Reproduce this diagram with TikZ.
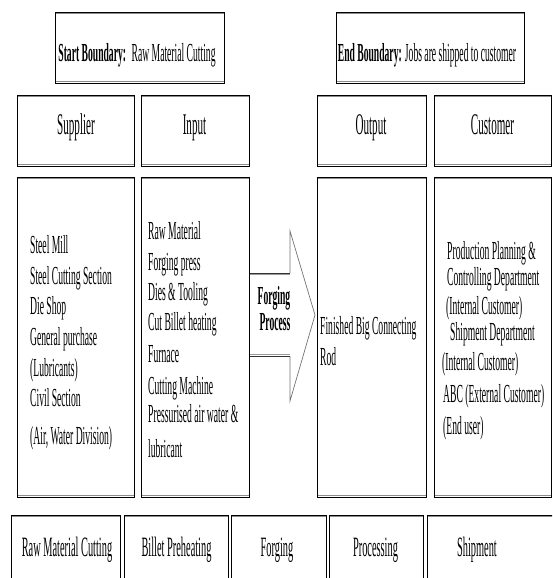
\documentclass[tikz,border=0pt]{standalone}
\usepackage{fontspec}
\setmainfont{Liberation Serif}[FakeStretch=0.37]
\begin{document}
\begin{tikzpicture}[x=1pt,y=-1pt,
  sbox/.style={draw=black, line width=0.8pt, fill=white, inner sep=0pt, outer sep=0pt,
    path picture={
      \draw[black!45, line width=1.3pt]
        ([yshift=-1.5pt]path picture bounding box.north west) -- ([yshift=-1.5pt]path picture bounding box.north east);
      \draw[black!45, line width=1.3pt]
        ([yshift=1.5pt]path picture bounding box.south west) -- ([yshift=1.5pt]path picture bounding box.south east);
    }},
  listtext/.style={font=\fontsize{26pt}{31pt}\selectfont, inner sep=0pt, anchor=base west},
  headtext/.style={font=\fontsize{26pt}{31pt}\selectfont, inner sep=0pt, anchor=base},
  labeltext/.style={font=\fontsize{30pt}{36pt}\selectfont, inner sep=0pt, anchor=base},
  steptext/.style={font=\fontsize{28pt}{34pt}\selectfont, inner sep=0pt, anchor=base},
  arrowtext/.style={font=\bfseries\fontsize{26pt}{31pt}\selectfont, inner sep=0pt, anchor=base}
]
\useasboundingbox (0,0) rectangle (552,578);
\clip (0,0) rectangle (552,578);

% boundary boxes
\node[sbox, minimum width=169pt, minimum height=71pt] (startb) at (139.5,47.5) {};
\node[sbox, minimum width=188pt, minimum height=71pt] (endb) at (430,47.5) {};
\node[headtext] (startt) at (137,62) {\textbf{Start Boundary:} \ Raw Material Cutting};
\node[headtext] (endt) at (427,62) {\textbf{End Boundary:} Jobs are shipped to customer};

% column heading boxes
\node[sbox, minimum width=117pt, minimum height=71pt] (supl) at (75.5,130.5) {};
\node[sbox, minimum width=108pt, minimum height=71pt] (inpl) at (195,130.5) {};
\node[sbox, minimum width=109pt, minimum height=71pt] (outl) at (371.5,130.5) {};
\node[sbox, minimum width=117pt, minimum height=71pt] (cusl) at (492.5,130.5) {};
\node[labeltext] (suplt) at (76,134) {Supplier};
\node[labeltext] (inplt) at (194.5,134) {Input};
\node[labeltext] (outlt) at (371,134) {Output};
\node[labeltext] (cuslt) at (492.5,134) {Customer};

% column content boxes
\node[sbox, minimum width=117pt, minimum height=320pt] (supb) at (75.5,337) {};
\node[sbox, minimum width=108pt, minimum height=320pt] (inpb) at (195,337) {};
\node[sbox, minimum width=109pt, minimum height=320pt] (outb) at (371.5,337) {};
\node[sbox, minimum width=117pt, minimum height=320pt] (cusb) at (492.5,337) {};

% supplier list
\foreach \n/\y/\t in {1/253/Steel Mill, 2/284/Steel Cutting Section, 3/314/Die Shop,
    4/345/General purchase, 5/376/(Lubricants), 6/406/Civil Section,
    7/444/{(Air, Water Division)}}
  \node[listtext] (sup\n) at (30,\y) {\t};

% input list
\foreach \n/\y/\t in {1/239/Raw Material, 2/270/Forging press, 3/300/Dies \& Tooling,
    4/330/Cut Billet heating, 5/362/Furnace, 6/394/Cutting Machine,
    7/422/Pressurised air water \&, 8/457/lubricant}
  \node[listtext] (inp\n) at (148,\y) {\t};

% output
\node[listtext] (out1) at (320,334) {Finished Big Connecting};
\node[listtext] (out2) at (320,365) {Rod};

% customer list
\foreach \n/\x/\y/\t in {1/447/259/Production Planning \&, 2/447/285/Controlling Department,
    3/446/314/(Internal Customer), 4/450/340/Shipment Department,
    5/442/370/(Internal Customer), 6/443/402/ABC (External Customer),
    7/443/434/(End user)}
  \node[listtext] (cus\n) at (\x,\y) {\t};

% forging process block arrow
\coordinate (a1) at (250,273);
\coordinate (a2) at (290,273);
\coordinate (a3) at (290,231);
\coordinate (a4) at (315,315);
\coordinate (a5) at (290,401);
\coordinate (a6) at (290,356);
\coordinate (a7) at (250,356);
\fill[white] (a1) -- (a2) -- (a3) -- (a4) -- (a5) -- (a6) -- (a7) -- cycle;
\draw[black!55, line width=0.7pt, line join=miter] (a2) -- (a3) -- (a4) -- (a5) -- (a6);
\draw[black!80, line width=1pt] (a1) -- (a2) (a7) -- (a6);
\draw[black!40, line width=1.3pt] ([yshift=-1.8pt]a1) -- ([yshift=-1.8pt]a2)
  ([yshift=1.8pt]a7) -- ([yshift=1.8pt]a6);
\node[arrowtext] (fp1) at (274,304) {Forging};
\node[arrowtext] (fp2) at (275,330) {Process};

% process steps
\node[sbox, minimum width=109pt, minimum height=85pt] (rawb) at (65.5,557.5) {};
\node[sbox, minimum width=104pt, minimum height=85pt] (bilb) at (176,557.5) {};
\node[sbox, minimum width=95pt, minimum height=85pt] (forb) at (278.5,557.5) {};
\node[sbox, minimum width=94pt, minimum height=85pt] (prob) at (376,557.5) {};
\node[sbox, minimum width=133pt, minimum height=85pt] (shib) at (493.5,557.5) {};
\node[steptext] (rawt) at (67,556) {Raw Material Cutting};
\node[steptext] (bilt) at (176.5,556) {Billet Preheating};
\node[steptext] (fort) at (277,556) {Forging};
\node[steptext] (prot) at (375.5,556) {Processing};
\node[steptext] (shit) at (477,556) {Shipment};
\end{tikzpicture}
\end{document}
